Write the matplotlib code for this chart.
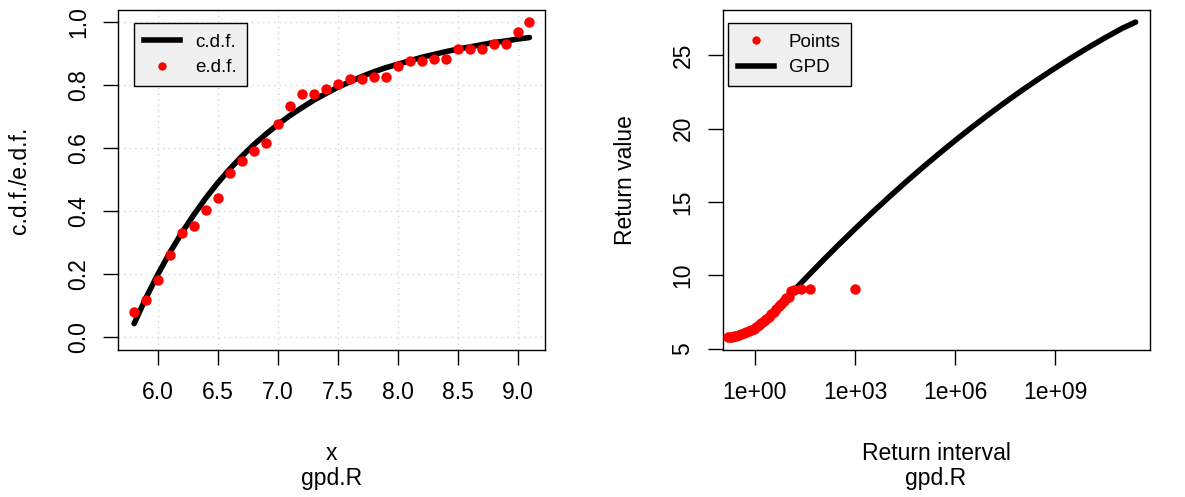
import numpy as np
import matplotlib
matplotlib.use('Agg')
import matplotlib.pyplot as plt
from matplotlib.ticker import FixedLocator, NullLocator
from matplotlib.lines import Line2D

plt.rcParams['font.family'] = ['Liberation Sans', 'DejaVu Sans']

# threshold exceedances (rounded to 0.1) and their empirical / fitted cdf
x_vals = [5.8, 5.9, 6.0, 6.1, 6.2, 6.3, 6.4, 6.5, 6.6, 6.7, 6.8, 6.9, 7.0, 7.1,
          7.2, 7.3, 7.4, 7.5, 7.6, 7.7, 7.8, 7.9, 8.0, 8.1, 8.2, 8.3, 8.4, 8.5,
          8.6, 8.7, 8.8, 8.9, 9.0, 9.1]
edf = [0.079, 0.117, 0.181, 0.259, 0.330, 0.353, 0.402, 0.441, 0.520, 0.560,
       0.590, 0.615, 0.677, 0.732, 0.771, 0.771, 0.788, 0.804, 0.819, 0.819,
       0.827, 0.827, 0.859, 0.875, 0.875, 0.882, 0.882, 0.914, 0.914, 0.914,
       0.930, 0.930, 0.969, 1.000]
cdf = [0.042, 0.125, 0.200, 0.269, 0.332, 0.389, 0.442, 0.490, 0.534, 0.574,
       0.611, 0.644, 0.675, 0.703, 0.728, 0.752, 0.773, 0.793, 0.810, 0.827,
       0.842, 0.855, 0.866, 0.877, 0.888, 0.897, 0.906, 0.914, 0.921, 0.928,
       0.935, 0.940, 0.946, 0.951]

# return level plot
rp_points = [0.16, 0.18, 0.21, 0.24, 0.28, 0.33, 0.39, 0.46, 0.55, 0.65, 0.78,
             0.93, 1.1, 1.3, 1.55, 1.85, 2.2, 2.6, 3.1, 3.7, 4.4, 5.2, 6.2,
             7.4, 8.8, 10.4, 12.5, 14.9, 23.7, 46.0, 1000.0]
rv_points = [5.80, 5.80, 5.81, 5.83, 5.87, 5.92, 5.99, 6.06, 6.13, 6.20, 6.28,
             6.37, 6.47, 6.58, 6.72, 6.86, 7.00, 7.18, 7.35, 7.52, 7.70, 7.88,
             8.07, 8.28, 8.42, 8.55, 8.95, 9.00, 9.05, 9.10, 9.10]
rp_curve = [1e1, 3.16e1, 1e2, 3.16e2, 1e3, 3.16e3, 1e4, 3.16e4, 1e5, 3.16e5,
            1e6, 3.16e6, 1e7, 3.16e7, 1e8, 3.16e8, 1e9, 3.16e9, 1e10, 3.16e10,
            1e11, 2.5e11]
rv_curve = [8.55, 9.75, 10.92, 12.06, 13.17, 14.25, 15.30, 16.32, 17.31, 18.27,
            19.20, 20.10, 20.97, 21.81, 22.62, 23.40, 24.15, 24.87, 25.56,
            26.22, 26.85, 27.27]

x_ticks = [6.0, 6.5, 7.0, 7.5, 8.0, 8.5, 9.0]
y_ticks = [0.0, 0.2, 0.4, 0.6, 0.8, 1.0]
rp_ticks = [1e0, 1e3, 1e6, 1e9]
rp_labels = ['1e+00', '1e+03', '1e+06', '1e+09']
rv_ticks = [5, 10, 15, 20, 25]

W, H = 1185, 497
fig = plt.figure(figsize=(W / 100, H / 100), dpi=100)
ax1 = fig.add_axes([118.3 / W, 1 - 349.5 / H, 427 / W, 340 / H])
ax2 = fig.add_axes([722.7 / W, 1 - 349.5 / H, 427.3 / W, 340 / H])

fs = 16.5
for ax in (ax1, ax2):
    for s in ax.spines.values():
        s.set_linewidth(1.0)
        s.set_color('black')
    ax.tick_params(direction='out', length=10.8, width=1.0, labelsize=fs,
                   colors='black')
    ax.tick_params(axis='x', pad=12)
    ax.tick_params(axis='y', pad=9.5, labelrotation=90)

# left: cdf vs edf
ax1.set_xlim(5.668, 9.232)
ax1.set_ylim(-0.04, 1.04)
ax1.xaxis.set_major_locator(FixedLocator(x_ticks))
ax1.yaxis.set_major_locator(FixedLocator(y_ticks))
ax1.set_xticklabels(['%.1f' % v for v in x_ticks])
ax1.set_yticklabels(['%.1f' % v for v in y_ticks], va='center')
for v in x_ticks:
    ax1.axvline(v, color='#d3d3d3', lw=1, ls=(0, (1, 3)), zorder=0)
for v in y_ticks:
    ax1.axhline(v, color='#d3d3d3', lw=1, ls=(0, (1, 3)), zorder=0)
ax1.plot(x_vals, cdf, color='black', lw=4, solid_capstyle='round', zorder=2)
ax1.plot(x_vals, edf, 'o', color='red', ms=7.5, mec='none', zorder=3)

leg_kw = dict(loc='upper left', fontsize=13.5, fancybox=False, framealpha=1,
              edgecolor='black', facecolor='#f0f0f0', borderpad=0.55,
              handlelength=1.9, handletextpad=0.8, labelspacing=0.45,
              borderaxespad=0)

h1 = [Line2D([], [], color='black', lw=4),
      Line2D([], [], marker='o', color='red', ls='none', ms=6, mec='none')]
leg1 = ax1.legend(h1, ['c.d.f.', 'e.d.f.'], bbox_to_anchor=(0.037, 0.96),
                  **leg_kw)
leg1.get_frame().set_linewidth(1.0)

# right: return level plot
ax2.set_xscale('log')
ax2.set_xlim(10 ** -0.961, 10 ** 11.83)
ax2.set_ylim(4.94, 28.13)
ax2.xaxis.set_major_locator(FixedLocator(rp_ticks))
ax2.xaxis.set_minor_locator(NullLocator())
ax2.set_xticklabels(rp_labels)
ax2.yaxis.set_major_locator(FixedLocator(rv_ticks))
ax2.set_yticklabels([str(v) for v in rv_ticks], va='center')
ax2.plot(rp_curve, rv_curve, color='black', lw=4, solid_capstyle='round',
         zorder=2)
ax2.plot(rp_points, rv_points, 'o', color='red', ms=7.5, mec='none', zorder=3)

h2 = [Line2D([], [], marker='o', color='red', ls='none', ms=6, mec='none'),
      Line2D([], [], color='black', lw=4)]
leg2 = ax2.legend(h2, ['Points', 'GPD'], bbox_to_anchor=(0.012, 0.96),
                  **leg_kw)
leg2.get_frame().set_linewidth(1.0)

# axis titles and subtitles
fig.text(331.5 / W, 1 - 453 / H, 'x', ha='center', va='center', fontsize=fs)
fig.text(331.5 / W, 1 - 478 / H, 'gpd.R', ha='center', va='center', fontsize=fs)
fig.text(936 / W, 1 - 453 / H, 'Return interval', ha='center', va='center',
         fontsize=fs)
fig.text(936 / W, 1 - 478 / H, 'gpd.R', ha='center', va='center', fontsize=fs)
fig.text(20 / W, 1 - 180 / H, 'c.d.f./e.d.f.', ha='center', va='center',
         rotation=90, fontsize=fs)
fig.text(625 / W, 1 - 180 / H, 'Return value', ha='center', va='center',
         rotation=90, fontsize=fs)

fig.savefig('out.png', dpi=100)
